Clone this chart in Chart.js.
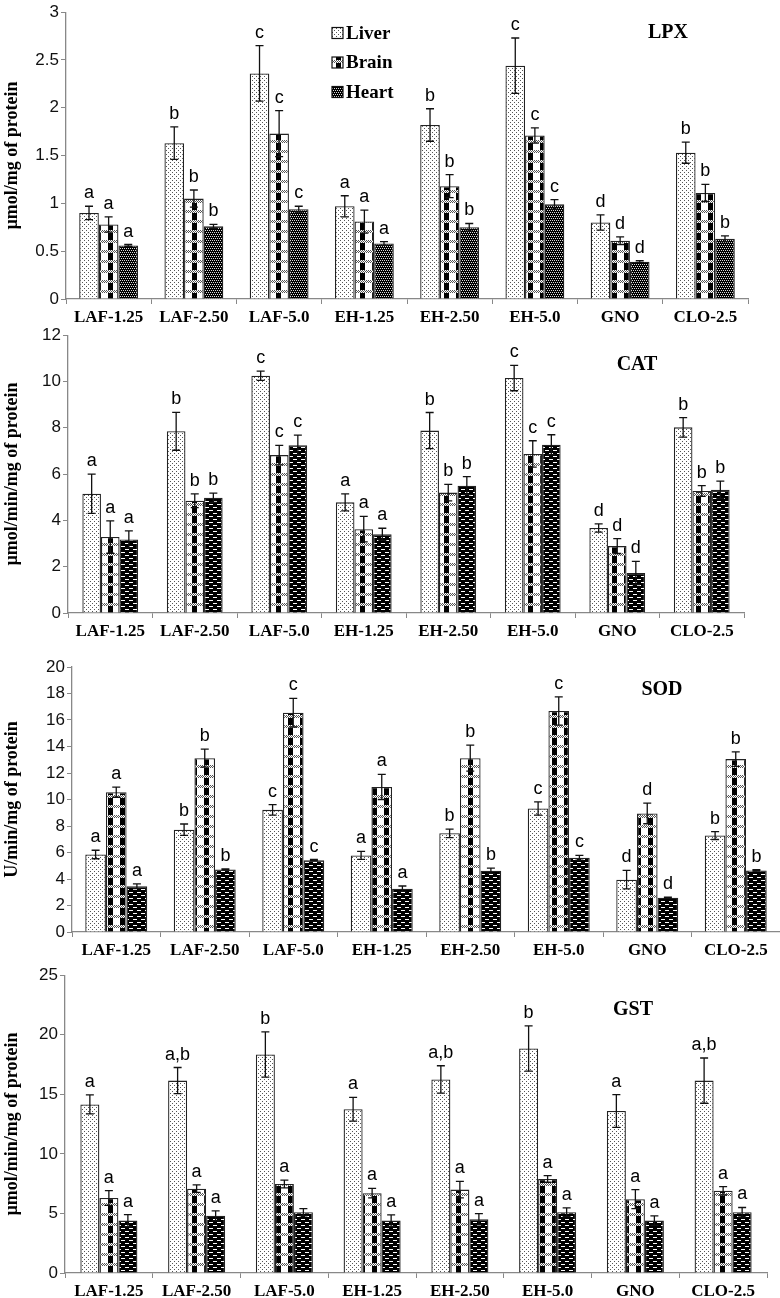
<!DOCTYPE html>
<html>
<head>
<meta charset="utf-8">
<script src="https://cdn.jsdelivr.net/npm/chart.js@4.4.0/dist/chart.umd.min.js"></script>
<style>
  body { margin: 0; background: #fff; width: 780px; height: 1298px; position: relative; overflow: hidden; }
  canvas { position: absolute; left: 0; }
</style>
</head>
<body>
<canvas id="lpx" width="780" height="323" style="top:0px"></canvas>
<canvas id="cat" width="780" height="322" style="top:323px"></canvas>
<canvas id="sod" width="780" height="318" style="top:645px"></canvas>
<canvas id="gst" width="780" height="335" style="top:963px"></canvas>
<script>
// groups and tissues
var categories = ['LAF-1.25', 'LAF-2.50', 'LAF-5.0', 'EH-1.25', 'EH-2.50', 'EH-5.0', 'GNO', 'CLO-2.5'];
var tissues = ['Liver', 'Brain', 'Heart'];

// LPX (umol/mg of protein)
var lpxLiver = [0.90, 1.63, 2.36, 0.97, 1.82, 2.44, 0.80, 1.53];
var lpxLiverErr = [0.07, 0.17, 0.29, 0.11, 0.17, 0.29, 0.08, 0.11];
var lpxBrain = [0.78, 1.05, 1.73, 0.81, 1.18, 1.71, 0.61, 1.11];
var lpxBrainErr = [0.08, 0.09, 0.24, 0.12, 0.12, 0.08, 0.04, 0.09];
var lpxHeart = [0.56, 0.76, 0.94, 0.58, 0.75, 0.99, 0.39, 0.63];
var lpxHeartErr = [0.01, 0.02, 0.03, 0.02, 0.04, 0.05, 0.01, 0.03];

// CAT (umol/min/mg of protein)
var catLiver = [5.15, 7.85, 10.25, 4.78, 7.88, 10.15, 3.67, 8.02];
var catLiverErr = [0.85, 0.82, 0.20, 0.37, 0.78, 0.55, 0.18, 0.42];
var catBrain = [3.28, 4.85, 6.82, 3.62, 5.20, 6.87, 2.89, 5.27];
var catBrainErr = [0.70, 0.30, 0.42, 0.55, 0.36, 0.57, 0.32, 0.23];
var catHeart = [3.18, 4.98, 7.25, 3.40, 5.50, 7.27, 1.73, 5.32];
var catHeartErr = [0.37, 0.20, 0.43, 0.26, 0.39, 0.43, 0.50, 0.38];

// SOD (U/min/mg of protein)
var sodLiver = [5.85, 7.72, 9.22, 5.78, 7.45, 9.32, 3.95, 7.28];
var sodLiverErr = [0.32, 0.43, 0.40, 0.30, 0.32, 0.50, 0.70, 0.30];
var sodBrain = [10.55, 13.12, 16.55, 10.95, 13.12, 16.68, 8.95, 13.05];
var sodBrainErr = [0.38, 0.68, 1.08, 0.95, 0.98, 1.06, 0.78, 0.55];
var sodHeart = [3.45, 4.72, 5.42, 3.27, 4.62, 5.60, 2.58, 4.65];
var sodHeartErr = [0.18, 0.05, 0.05, 0.20, 0.20, 0.18, 0.05, 0.05];

// GST (umol/min/mg of protein)
var gstLiver = [14.15, 16.15, 18.35, 13.75, 16.25, 18.85, 13.60, 16.15];
var gstLiverErr = [0.80, 1.10, 1.90, 1.00, 1.15, 1.90, 1.38, 1.90];
var gstBrain = [6.30, 7.08, 7.47, 6.70, 7.00, 7.90, 6.20, 6.90];
var gstBrainErr = [0.62, 0.32, 0.33, 0.40, 0.70, 0.28, 0.80, 0.35];
var gstHeart = [4.40, 4.80, 5.10, 4.40, 4.52, 5.10, 4.40, 5.10];
var gstHeartErr = [0.50, 0.42, 0.30, 0.48, 0.47, 0.36, 0.40, 0.40];

// significance letters
var abcdLetters = ['a', 'b', 'c', 'a', 'b', 'c', 'd', 'b'];
var gstLiverLetters = ['a', 'a,b', 'b', 'a', 'a,b', 'b', 'a', 'a,b'];
var gstBrainLetters = ['a', 'a', 'a', 'a', 'a', 'a', 'a', 'a'];
var gstHeartLetters = ['a', 'a', '', 'a', 'a', 'a', 'a', 'a'];

// y axis ranges
var yMax = [3, 12, 20, 25];
var yStep = [0.5, 2, 2, 5];

// fill patterns for the bars
var makePattern = function(kind) {
    var c = document.createElement('canvas');
    var w = 4, h = 4;
    if (kind == 'plaid') { w = 12; h = 10; }
    if (kind == 'brick') { w = 8; h = 6; }
    if (kind == 'checker') { w = 4; h = 4; }
    c.width = w; c.height = h;
    var g = c.getContext('2d');

    if (kind == 'dots') {
        g.fillStyle = '#fff'; g.fillRect(0, 0, w, h);
        g.fillStyle = '#555';
        g.fillRect(0, 0, 1, 1); g.fillRect(2, 2, 1, 1);
    } else if (kind == 'plaid') {
        g.fillStyle = '#fff'; g.fillRect(0, 0, w, h);
        g.fillStyle = '#000'; g.fillRect(0, 3, 5, h - 3);
        for (var y = 0; y < 3; y++) {
            for (var x = 0; x < w; x++) {
                g.fillStyle = (x + y) % 2 ? '#fff' : '#555';
                g.fillRect(x, y, 1, 1);
            }
        }
    } else if (kind == 'brick') {
        g.fillStyle = '#000'; g.fillRect(0, 0, w, h);
        g.fillStyle = '#fff';
        g.fillRect(1, 1, 4, 1); g.fillRect(5, 4, 3, 1); g.fillRect(0, 4, 1, 1);
    } else {
        g.fillStyle = '#000'; g.fillRect(0, 0, w, h);
        g.fillStyle = '#ddd';
        g.fillRect(0, 0, 1, 1); g.fillRect(2, 0, 1, 1);
        g.fillRect(1, 2, 1, 1); g.fillRect(3, 2, 1, 1);
    }
    return g.createPattern(c, 'repeat');
}

// error bars, letters, legend and title
var extras = {
    id: 'extras',
    afterDatasetsDraw: function(chart, args, opts) {
        var ctx = chart.ctx;
        var yScale = chart.scales.y;
        ctx.save();
        chart.data.datasets.forEach(function(ds, i) {
            var meta = chart.getDatasetMeta(i);
            meta.data.forEach(function(bar, j) {
                var v = ds.data[j], e = ds.errors[j];
                var yt = yScale.getPixelForValue(v + e);
                var yb = yScale.getPixelForValue(v - e);
                ctx.strokeStyle = '#111';
                ctx.lineWidth = 1.3;
                ctx.beginPath();
                ctx.moveTo(bar.x, yt); ctx.lineTo(bar.x, yb);
                ctx.moveTo(bar.x - 4, yt); ctx.lineTo(bar.x + 4, yt);
                ctx.moveTo(bar.x - 4, yb); ctx.lineTo(bar.x + 4, yb);
                ctx.stroke();
                if (ds.letters[j]) {
                    ctx.fillStyle = '#000';
                    ctx.font = '18px "Liberation Sans", Arial, sans-serif';
                    ctx.textAlign = 'center';
                    ctx.textBaseline = 'alphabetic';
                    ctx.fillText(ds.letters[j], bar.x, yt - opts.gap);
                }
            });
        });

        ctx.fillStyle = '#000';
        ctx.font = 'bold 20px "Liberation Serif", "Times New Roman", serif';
        ctx.textAlign = 'center';
        ctx.textBaseline = 'middle';
        ctx.fillText(opts.title, opts.titleX, opts.titleY);

        if (opts.legend) {
            ctx.font = 'bold 19px "Liberation Serif", "Times New Roman", serif';
            ctx.textAlign = 'left';
            chart.data.datasets.forEach(function(ds, i) {
                var y = opts.legendY + i * 29.5;
                ctx.fillStyle = ds.backgroundColor;
                ctx.fillRect(opts.legendX, y - 5.5, 11, 11);
                ctx.strokeStyle = '#111';
                ctx.lineWidth = 1.2;
                ctx.strokeRect(opts.legendX, y - 5.5, 11, 11);
                ctx.fillStyle = '#000';
                ctx.fillText(ds.label, opts.legendX + 14, y + 1);
            });
        }
        ctx.restore();
    }
};

var makeChart = function(id, cfg) {
    var fills = [makePattern('dots'), makePattern('plaid'), makePattern(cfg.heartKind)];
    var datasets = tissues.map(function(name, i) {
        return {
            label: name,
            data: cfg.values[i],
            errors: cfg.errors[i],
            letters: cfg.letters[i],
            backgroundColor: fills[i],
            borderColor: '#222',
            borderWidth: 1.3,
            barPercentage: 1,
            categoryPercentage: cfg.groupWidth
        };
    });

    return new Chart(document.getElementById(id), {
        type: 'bar',
        data: { labels: categories, datasets: datasets },
        options: {
            responsive: false,
            animation: false,
            layout: { padding: { top: cfg.padTop, right: cfg.padRight, left: 0, bottom: 0 } },
            scales: {
                x: {
                    grid: { drawOnChartArea: false, tickLength: 5, color: '#888', offset: true },
                    border: { color: '#888', width: 1.3 },
                    ticks: {
                        font: { family: '"Liberation Serif", "Times New Roman", serif', weight: 'bold', size: 17 },
                        color: '#000', padding: 3, maxRotation: 0, autoSkip: false
                    },
                    afterFit: function(s) { s.height = cfg.xHeight; }
                },
                y: {
                    min: 0,
                    max: cfg.max,
                    grid: { drawOnChartArea: false, tickLength: 5, color: '#888' },
                    border: { color: '#888', width: 1.3 },
                    ticks: {
                        stepSize: cfg.step,
                        font: { family: '"Liberation Sans", Arial, sans-serif', size: 17 },
                        color: '#111', padding: 2,
                        callback: function(v) { return String(v); }
                    },
                    title: {
                        display: true, text: cfg.yTitle, color: '#000', padding: { top: 2, bottom: 0 },
                        font: { family: '"Liberation Serif", "Times New Roman", serif', weight: 'bold', size: 18 }
                    },
                    afterFit: function(s) { s.width = cfg.yWidth; }
                }
            },
            plugins: {
                legend: { display: false },
                tooltip: { enabled: false },
                extras: {
                    gap: 8, title: cfg.title, titleX: cfg.titleX, titleY: cfg.titleY,
                    legend: cfg.legend, legendX: 332, legendY: 33
                }
            }
        },
        plugins: [extras]
    });
}

makeChart('lpx', {
    values: [lpxLiver, lpxBrain, lpxHeart],
    errors: [lpxLiverErr, lpxBrainErr, lpxHeartErr],
    letters: [abcdLetters, abcdLetters, abcdLetters],
    heartKind: 'checker', groupWidth: 0.69,
    max: yMax[0], step: yStep[0], yTitle: 'µmol/mg of protein',
    padTop: 10, padRight: 32, xHeight: 24, yWidth: 66,
    title: 'LPX', titleX: 668, titleY: 33, legend: true
});

makeChart('cat', {
    values: [catLiver, catBrain, catHeart],
    errors: [catLiverErr, catBrainErr, catHeartErr],
    letters: [abcdLetters, abcdLetters, abcdLetters],
    heartKind: 'brick', groupWidth: 0.66,
    max: yMax[1], step: yStep[1], yTitle: 'µmol/min/mg of protein',
    padTop: 10, padRight: 36, xHeight: 32, yWidth: 68,
    title: 'CAT', titleX: 637, titleY: 42, legend: false
});

makeChart('sod', {
    values: [sodLiver, sodBrain, sodHeart],
    errors: [sodLiverErr, sodBrainErr, sodHeartErr],
    letters: [abcdLetters, abcdLetters, abcdLetters],
    heartKind: 'brick', groupWidth: 0.70,
    max: yMax[2], step: yStep[2], yTitle: 'U/min/mg of protein',
    padTop: 22, padRight: 0, xHeight: 31, yWidth: 72,
    title: 'SOD', titleX: 662, titleY: 45, legend: false
});

makeChart('gst', {
    values: [gstLiver, gstBrain, gstHeart],
    errors: [gstLiverErr, gstBrainErr, gstHeartErr],
    letters: [gstLiverLetters, gstBrainLetters, gstHeartLetters],
    heartKind: 'brick', groupWidth: 0.65,
    max: yMax[3], step: yStep[3], yTitle: 'µmol/min/mg of protein',
    padTop: 11, padRight: 13, xHeight: 25, yWidth: 65,
    title: 'GST', titleX: 633, titleY: 47, legend: false
});
</script>
</body>
</html>
